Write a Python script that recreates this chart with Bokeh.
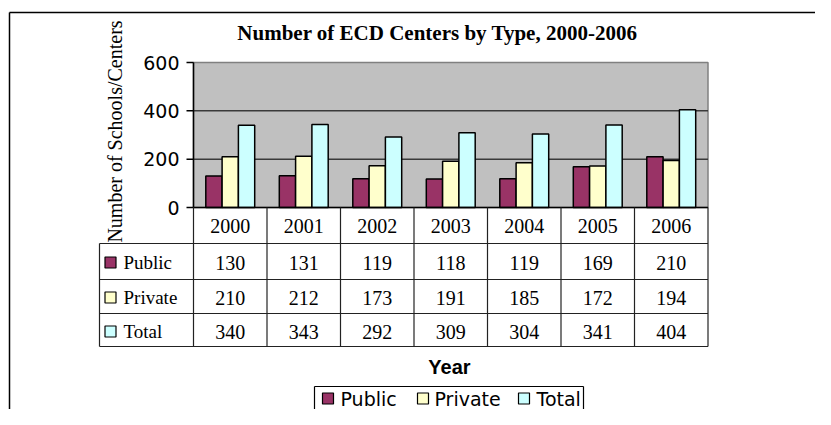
import math
from bokeh.plotting import figure
from bokeh.models import Range1d
from bokeh.core.properties import value
from bokeh.embed import file_html
from bokeh.resources import INLINE

# ---------------- data ----------------
years = ["2000", "2001", "2002", "2003", "2004", "2005", "2006"]
public = [130, 131, 119, 118, 119, 169, 210]
private = [210, 212, 173, 191, 185, 172, 194]
total = [340, 343, 292, 309, 304, 341, 404]
series_names = ["Public", "Private", "Total"]
series_values = [public, private, total]
series_colors = ["#993366", "#FFFFCC", "#CCFFFF"]
y_ticks = [0, 200, 400, 600]
title_text = "Number of ECD Centers by Type, 2000-2006"
y_label = "Number of Schools/Centers"
x_label = "Year"

# ---------------- layout (reference pixel geometry) ----------------
W, H = 815, 409
OX, OY = 0, 0
PL, PR = 193.0, 707.5      # plot area left/right (px)
PB, PT = 207.0, 62.0       # plot area bottom/top (px)
YMAX = y_ticks[-1]
n = len(years)
sx = (PR - PL) / n
sy = (PB - PT) / YMAX


def X(px):
    return (px - PL) / sx


def Y(py):
    return (PB - py) / sy


SERIF = value("Liberation Serif")
SANS = value("DejaVu Sans")

p = figure(width=W, height=H,
           x_range=Range1d(X(OX), X(OX + W)),
           y_range=Range1d(Y(OY + H), Y(OY)),
           x_axis_type=None, y_axis_type=None,
           toolbar_location=None, output_backend="svg",
           min_border=0, outline_line_color=None)
p.background_fill_color = "white"
p.border_fill_color = "white"

# outer chart border (top and left visible)
p.segment(x0=[X(9), X(9)], y0=[Y(12), Y(12)], x1=[X(830), X(9)], y1=[Y(12), Y(430)],
          line_color="black", line_width=1.5)

# title
p.text(x=[X(437)], y=[Y(32)], text=[title_text], text_font=SERIF,
       text_font_size="21px", text_font_style="bold",
       text_align="center", text_baseline="middle", text_color="black")

# plot area
p.quad(left=[0], right=[n], bottom=[0], top=[YMAX],
       fill_color="#C0C0C0", line_color="#808080", line_width=1.5)
grid_vals = y_ticks[1:-1]
p.segment(x0=[0] * len(grid_vals), x1=[n] * len(grid_vals), y0=grid_vals, y1=grid_vals,
          line_color="#3a3a3a", line_width=1.5)

# y axis
p.segment(x0=[0], y0=[0], x1=[0], y1=[YMAX], line_color="black", line_width=1.5)
p.segment(x0=[X(186)] * len(y_ticks), x1=[0] * len(y_ticks), y0=y_ticks, y1=y_ticks,
          line_color="black", line_width=1.5)
p.text(x=[X(179)] * len(y_ticks), y=y_ticks, text=[str(t) for t in y_ticks],
       text_font=SANS, text_font_size="19px", text_align="right",
       text_baseline="middle", text_color="black")
p.text(x=[X(114)], y=[Y(131)], text=[y_label], angle=math.pi / 2,
       text_font=SERIF, text_font_size="20px", text_align="center",
       text_baseline="middle", text_color="black")

# bars
bw = 16.3 / sx
for k, (vals, col, name) in enumerate(zip(series_values, series_colors, series_names)):
    xs = [i + 0.5 + (k - 1) * bw for i in range(n)]
    p.vbar(x=xs, top=vals, bottom=0, width=bw, fill_color=col,
           line_color="black", line_width=1.5)

# data table
row_lines = [243, 279, 313, 346]
row_centers = [262, 297, 331]
header_center = 225
p.segment(x0=[0], y0=[0], x1=[n], y1=[0], line_color="black", line_width=1.5)
p.segment(x0=[X(99)] * len(row_lines), x1=[n] * len(row_lines),
          y0=[Y(r) for r in row_lines], y1=[Y(r) for r in row_lines],
          line_color="#222222", line_width=1.2)
p.segment(x0=[X(99)], y0=[Y(row_lines[0])], x1=[X(99)], y1=[Y(row_lines[-1])],
          line_color="#222222", line_width=1.2)
p.segment(x0=list(range(n + 1)), x1=list(range(n + 1)),
          y0=[0] * (n + 1), y1=[Y(row_lines[-1])] * (n + 1),
          line_color="#222222", line_width=1.2)
p.text(x=[i + 0.5 for i in range(n)], y=[Y(header_center)] * n, text=years,
       text_font=SERIF, text_font_size="20px", text_align="center",
       text_baseline="middle", text_color="black")
for vals, col, name, rc in zip(series_values, series_colors, series_names, row_centers):
    p.text(x=[i + 0.5 for i in range(n)], y=[Y(rc)] * n, text=[str(v) for v in vals],
           text_font=SERIF, text_font_size="20px", text_align="center",
           text_baseline="middle", text_color="black")
    p.scatter(x=[X(110)], y=[Y(rc)], marker="square", size=11,
              fill_color=col, line_color="black", line_width=1.2)
    p.text(x=[X(123)], y=[Y(rc)], text=[name], text_font=SERIF,
           text_font_size="19px", text_align="left", text_baseline="middle",
           text_color="black")

# x label
p.text(x=[X(449)], y=[Y(366)], text=[x_label], text_font=value("Liberation Sans"),
       text_font_size="20px", text_font_style="bold", text_align="center",
       text_baseline="middle", text_color="black")

# legend (box cut by bottom edge, as in the reference)
LT = 386
p.segment(x0=[X(314), X(314), X(583)], y0=[Y(LT), Y(LT), Y(LT)],
          x1=[X(583), X(314), X(583)], y1=[Y(LT), Y(440), Y(440)],
          line_color="black", line_width=1.2)
leg_marker_x = [327.5, 422.5, 523.5]
leg_text_x = [340, 434, 536]
leg_y = 398
for col, name, mx, tx in zip(series_colors, series_names, leg_marker_x, leg_text_x):
    p.scatter(x=[X(mx)], y=[Y(leg_y)], marker="square", size=11,
              fill_color=col, line_color="black", line_width=1.2)
    p.text(x=[X(tx)], y=[Y(leg_y)], text=[name], text_font=SANS,
           text_font_size="19px", text_align="left", text_baseline="middle",
           text_color="black")

open("out.html", "w").write(file_html(p, INLINE))
